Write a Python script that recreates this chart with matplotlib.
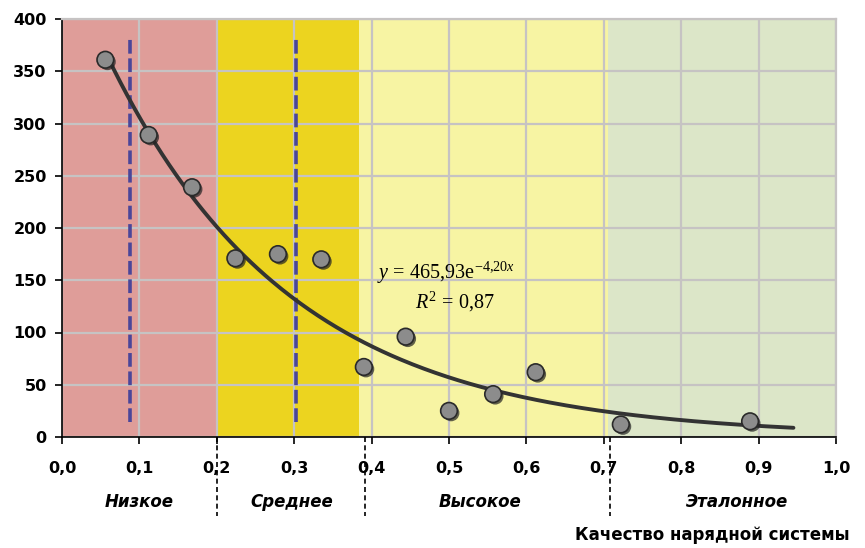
import numpy as np
import matplotlib
matplotlib.use("Agg")
import matplotlib.pyplot as plt
import matplotlib.patheffects as pe

plt.rcParams["mathtext.fontset"] = "custom"
plt.rcParams["mathtext.rm"] = "Liberation Serif"
plt.rcParams["mathtext.it"] = "Liberation Serif:italic"

# ---- data ----
x_pts = [0.056, 0.112, 0.168, 0.224, 0.279, 0.335, 0.390, 0.444, 0.500, 0.557, 0.612, 0.722, 0.889]
y_pts = [361, 289, 239, 171, 175, 170, 67, 96, 25, 41, 62, 12, 15]
trend_a = 465.93
trend_b = -4.20
trend_range = [0.058, 0.945]
zone_edges = [0.0, 0.2, 0.384, 0.706, 1.0]
zone_names = ["Низкое", "Среднее", "Высокое", "Эталонное"]
zone_label_x = [0.10, 0.297, 0.54, 0.872]
zone_colors = ["#df9d99", "#ecd41f", "#f7f4a3", "#dce6c8"]
divider_x = [0.2, 0.391, 0.708]
blue_lines_x = [0.088, 0.302]
blue_lines_y = [14, 383]
x_ticks = [0.0, 0.1, 0.2, 0.3, 0.4, 0.5, 0.6, 0.7, 0.8, 0.9, 1.0]
y_ticks = [0, 50, 100, 150, 200, 250, 300, 350, 400]

FONT = "DejaVu Sans"

fig = plt.figure(figsize=(8.65, 5.48), dpi=100)
ax = fig.add_axes([62/865, 1-437/548, (836-62)/865, (437-19)/548])
ax.set_xlim(0, 1)
ax.set_ylim(0, 400)

for i in range(len(zone_colors)):
    ax.axvspan(zone_edges[i], zone_edges[i+1], color=zone_colors[i], zorder=0, lw=0)

ax.set_xticks(x_ticks)
ax.set_yticks(y_ticks)
ax.grid(True, color="#c6c3c3", lw=1.6, zorder=1)
ax.set_axisbelow(True)

ax.set_xticklabels([f"{t:.1f}".replace(".", ",") for t in x_ticks])
ax.set_yticklabels([str(t) for t in y_ticks])
for lab in ax.get_xticklabels() + ax.get_yticklabels():
    lab.set_fontfamily(FONT)
    lab.set_fontweight("bold")
    lab.set_fontsize(11.5)
ax.tick_params(axis="both", direction="out", length=5, width=1.2, color="black")
ax.tick_params(axis="x", pad=12)
ax.tick_params(axis="y", pad=6)

for s in ["top", "right"]:
    ax.spines[s].set_color("#c6c3c3")
    ax.spines[s].set_linewidth(1.6)
for s in ["left", "bottom"]:
    ax.spines[s].set_color("black")
    ax.spines[s].set_linewidth(1.2)

# blue dashed lines
for bx in blue_lines_x:
    ax.plot([bx, bx], blue_lines_y, color="#4a4699", lw=2.6, dashes=(3.8, 1.3), zorder=2)

# trendline
xt = np.linspace(trend_range[0], trend_range[1], 300)
ax.plot(xt, trend_a*np.exp(trend_b*xt), color="#333333", lw=2.8, zorder=3,
        solid_capstyle="round")

# points with shadow
ax.plot(x_pts, y_pts, "o", ms=12, mfc="#8c8c8c", mec="#2a2a2a", mew=1.2, zorder=4,
        path_effects=[pe.SimplePatchShadow(offset=(1.5, -1.5), shadow_rgbFace="#222222", alpha=0.7),
                      pe.Normal()])

# equation
ax.text(0.407, 157, r"$\mathit{y}\,\mathrm{=}\,\mathrm{465{,}93e}^{\mathrm{-4{,}20}\mathit{x}}$",
        fontsize=14.5, ha="left", va="center", zorder=5)
ax.text(0.456, 129, r"$\mathit{R}^{\mathrm{2}}\,\mathrm{=}\,\mathrm{0{,}87}$",
        fontsize=14.5, ha="left", va="center", zorder=5)

# zone labels and dividers below axis
for nx, name in zip(zone_label_x, zone_names):
    ax.text(nx, -0.155, name, transform=ax.get_xaxis_transform(), ha="center", va="center",
            fontsize=12, fontweight="bold", style="italic", family=FONT)
for dx in divider_x:
    ax.plot([dx, dx], [0, -0.19], transform=ax.get_xaxis_transform(), color="black",
            lw=1.2, ls=(0, (3, 2)), clip_on=False)

fig.text(850/865, 1-535/548, "Качество нарядной системы", ha="right", va="center",
         fontsize=12, fontweight="bold", family=FONT)

fig.savefig("out.png", dpi=100)
